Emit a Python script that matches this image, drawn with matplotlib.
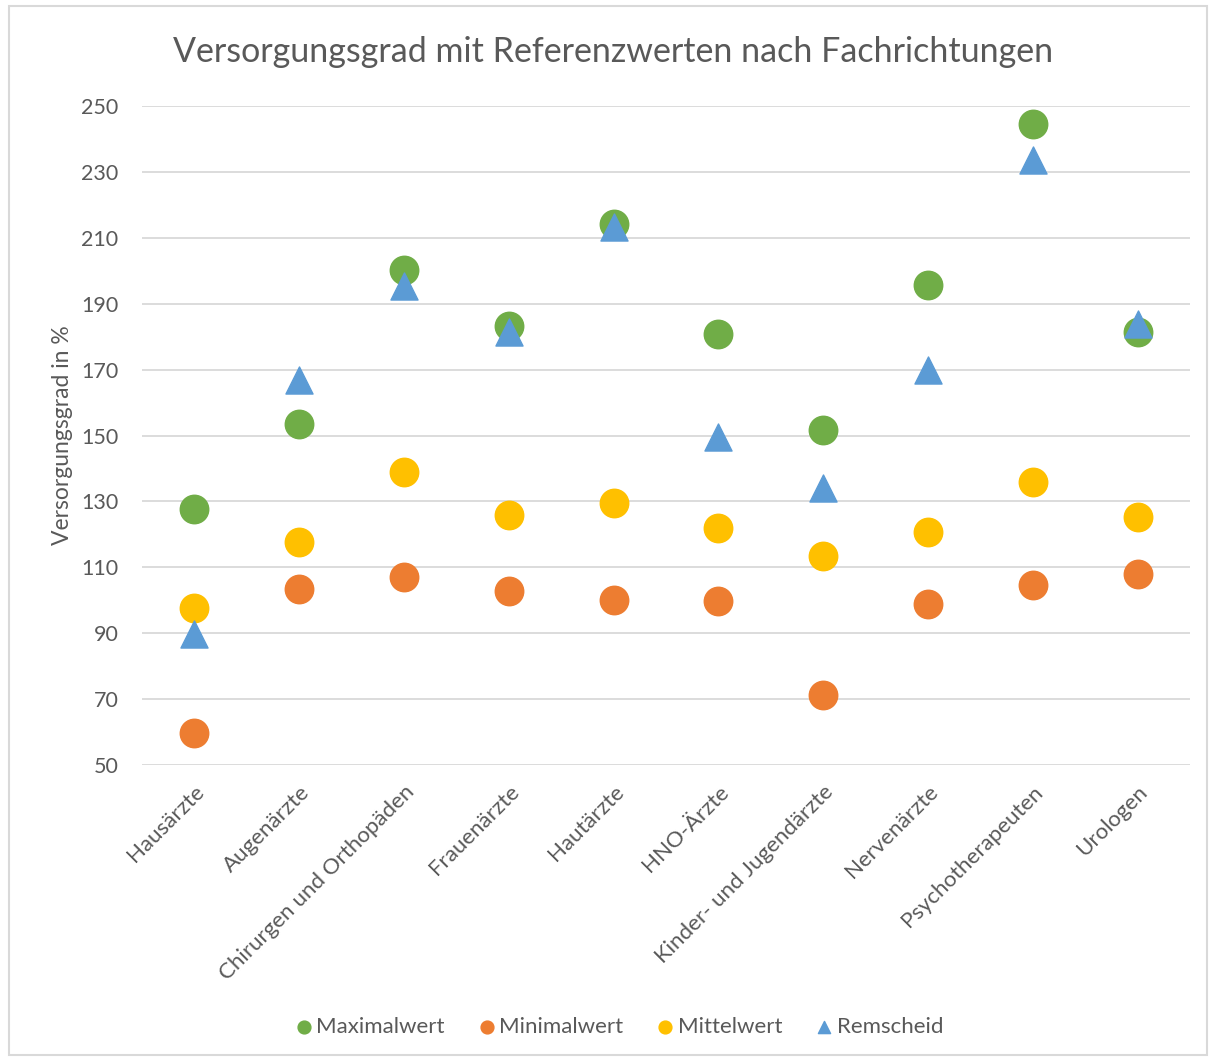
import matplotlib
matplotlib.use("Agg")
import matplotlib.pyplot as plt
from matplotlib.patches import Rectangle

plt.rcParams["font.family"] = ["Lato", "DejaVu Sans"]

categories = [
    "Hausärzte", "Augenärzte", "Chirurgen und Orthopäden", "Frauenärzte",
    "Hautärzte", "HNO-Ärzte", "Kinder- und Jugendärzte", "Nervenärzte",
    "Psychotherapeuten", "Urologen",
]
maximalwert = [127.7, 153.6, 200.2, 183.3, 214.2, 180.8, 151.7, 195.8, 244.6, 181.5]
minimalwert = [59.8, 103.5, 107.1, 102.9, 100.0, 99.8, 71.3, 98.9, 104.6, 108.0]
mittelwert = [97.7, 117.7, 138.8, 125.9, 129.5, 121.9, 113.4, 120.6, 135.9, 125.4]
remscheid = [89.8, 166.7, 195.5, 181.4, 213.3, 149.6, 134.2, 169.9, 233.6, 183.9]
yticks = list(range(50, 251, 20))

text_color = "#595959"
grid_color = "#d9d9d9"

fig = plt.figure(figsize=(12.14, 10.61), dpi=100)
fig.patch.set_facecolor("white")
fig.patches.append(Rectangle((9 / 1214, 6 / 1061), 1198 / 1214, 1049 / 1061,
                             transform=fig.transFigure, fill=False,
                             edgecolor=grid_color, linewidth=1.5))

ax = fig.add_axes([142 / 1214, 1 - 765 / 1061, 1048 / 1214, 659 / 1061])
x = list(range(len(categories)))

ax.scatter(x, maximalwert, s=420, marker="o", color="#70AD47", label="Maximalwert", zorder=3)
ax.scatter(x, minimalwert, s=420, marker="o", color="#ED7D31", label="Minimalwert", zorder=3)
ax.scatter(x, mittelwert, s=420, marker="o", color="#FFC000", label="Mittelwert", zorder=3)
ax.scatter(x, remscheid, s=380, marker="^", color="#5B9BD5", label="Remscheid", zorder=4)

ax.set_xlim(-0.5, len(categories) - 0.5)
ax.set_ylim(50, 250)
ax.set_yticks(yticks)
ax.set_xticks(x)
ax.set_xticklabels(categories, rotation=45, ha="right", rotation_mode="anchor",
                   fontsize=16, color=text_color)
ax.tick_params(axis="y", length=0, pad=17, labelsize=15.5, labelcolor=text_color)
ax.tick_params(axis="x", length=0, pad=12)
ax.grid(axis="y", color=grid_color, linewidth=1.3)
ax.set_axisbelow(True)
for s in ax.spines.values():
    s.set_visible(False)

ax.set_ylabel("Versorgungsgrad in %", fontsize=16.5, color=text_color)
ax.yaxis.set_label_coords(-0.066, 0.5)

fig.text(613 / 1214, 1 - 52 / 1061, "Versorgungsgrad mit Referenzwerten nach Fachrichtungen",
         ha="center", va="center", fontsize=24.5, color=text_color)

leg = fig.legend(loc="center", bbox_to_anchor=(618 / 1214, 1 - 1027 / 1061), ncol=4,
                 frameon=False, fontsize=16, markerscale=0.45, handletextpad=0.05,
                 handlelength=1.0, columnspacing=1.4, labelcolor=text_color)

plt.savefig("out.png", dpi=100, facecolor="white")
